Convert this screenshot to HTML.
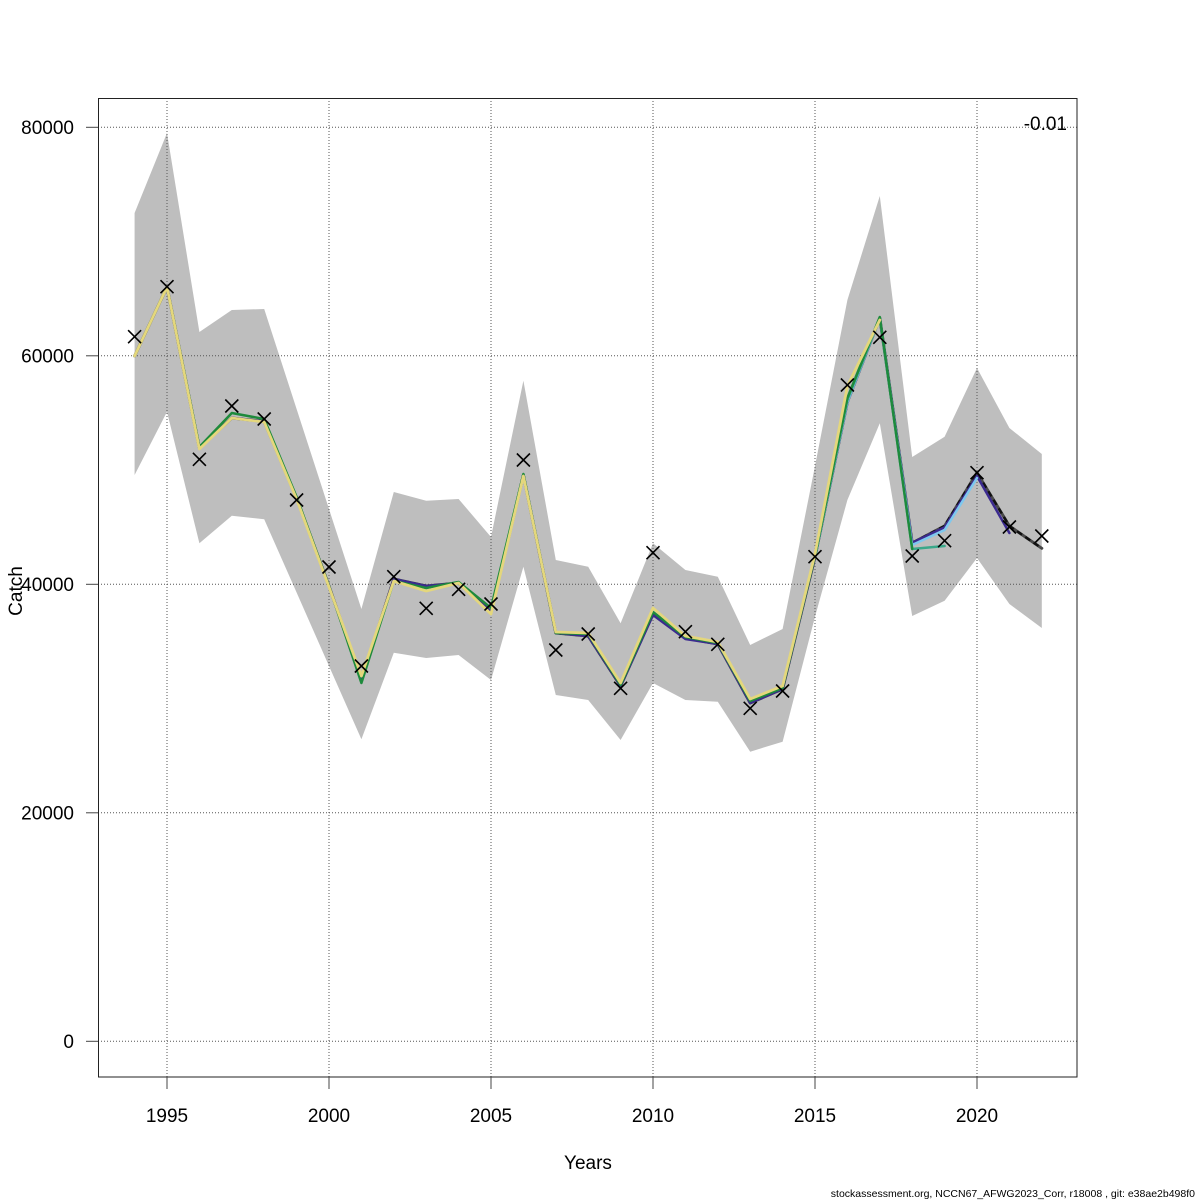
<!DOCTYPE html>
<html><head><meta charset="utf-8"><style>
html,body{margin:0;padding:0;background:#fff;}
svg{display:block;}
text{font-family:"Liberation Sans",Arial,sans-serif;fill:#000;}
</style></head><body>
<svg width="1200" height="1200" viewBox="0 0 1200 1200" xmlns="http://www.w3.org/2000/svg">
<rect width="1200" height="1200" fill="#fff"/>
<!-- band -->
<polygon fill="#bebebe" points="134.6,213 167,133 199.4,332 231.8,310 264.2,309 296.6,409 329,509 361.4,609 393.8,492 426.2,500.7 458.6,499 491,537 523.4,380.7 555.8,560 588.2,566.7 620.6,623.3 653,543.3 685.4,570 717.8,576.7 750.2,645 782.6,629 815,466 847.4,300 879.8,196 912.2,457 944.6,436.7 977,368 1009.4,428 1041.8,454 1041.8,628 1009.4,604 977,558 944.6,600.7 912.2,616 879.8,423.3 847.4,500 815,616.7 782.6,741.7 750.2,751.7 717.8,701.7 685.4,700 653,683 620.6,740 588.2,700 555.8,695 523.4,566.7 491,680 458.6,655 426.2,658 393.8,652.7 361.4,739.3 329,666 296.6,592.5 264.2,519.3 231.8,515.7 199.4,543.3 167,411.7 134.6,475"/>
<!-- grid -->
<g stroke="#555" stroke-width="1" stroke-dasharray="1 2" fill="none">
<line x1="98" y1="1041.3" x2="1077" y2="1041.3"/>
<line x1="98" y1="812.8" x2="1077" y2="812.8"/>
<line x1="98" y1="584.3" x2="1077" y2="584.3"/>
<line x1="98" y1="355.8" x2="1077" y2="355.8"/>
<line x1="98" y1="127.3" x2="1077" y2="127.3"/>
<line x1="167" y1="98" x2="167" y2="1077"/>
<line x1="329" y1="98" x2="329" y2="1077"/>
<line x1="491" y1="98" x2="491" y2="1077"/>
<line x1="653" y1="98" x2="653" y2="1077"/>
<line x1="815" y1="98" x2="815" y2="1077"/>
<line x1="977" y1="98" x2="977" y2="1077"/>
</g>
<!-- lines -->
<g fill="none" stroke-linejoin="round" stroke-linecap="round">
<polyline stroke="#4a4a4a" stroke-width="3" points="134.6,356 167,287 199.4,448 231.8,418 264.2,421.5 296.6,498 329,586 361.4,680 393.8,579 426.2,586 458.6,583 491,612 523.4,475 555.8,633 588.2,636 620.6,686 653,614 685.4,638 717.8,644 750.2,703 782.6,689 815,557 847.4,402 879.8,318 912.2,543 944.6,526 977,472.7 1009.4,526 1041.8,548.3"/>
<polyline stroke="#111" stroke-width="2.5" stroke-linecap="butt" stroke-dasharray="6 4" points="134.6,356 167,287 199.4,448 231.8,418 264.2,421.5 296.6,498 329,586 361.4,680 393.8,579 426.2,586 458.6,583 491,612 523.4,475 555.8,633 588.2,636 620.6,686 653,614 685.4,638 717.8,644 750.2,703 782.6,689 815,557 847.4,402 879.8,318 912.2,543 944.6,526 977,472.7 1009.4,526 1041.8,548.3"/>
<polyline stroke="#3b2a8f" stroke-width="2.5" points="134.6,356 167,287 199.4,448 231.8,418 264.2,421.5 296.6,498 329,586 361.4,680 393.8,579 426.2,586 458.6,583 491,612 523.4,475 555.8,633 588.2,636 620.6,686 653,615 685.4,639 717.8,644 750.2,703 782.6,689 815,557 847.4,402 879.8,318 912.2,542.7 944.6,527.3 977,476 1009.4,533"/>
<polyline stroke="#7ec8ee" stroke-width="2.5" points="815,557 847.4,402 879.8,318 912.2,545 944.6,530 977,478"/>
<polyline stroke="#3aa88a" stroke-width="2.5" points="815,557 847.4,400 879.8,318 912.2,549 944.6,546"/>
<polyline stroke="#1e8a3c" stroke-width="2.5" points="134.6,356 167,287 199.4,447 231.8,413 264.2,419 296.6,497 329,586 361.4,683 393.8,581 426.2,588 458.6,582 491,608 523.4,474 555.8,633 588.2,634 620.6,685 653,612 685.4,637 717.8,643 750.2,701 782.6,688 815,556 847.4,398 879.8,317 912.2,549"/>
<polyline stroke="#e4d77c" stroke-width="2.8" points="134.6,356 167,287 199.4,449 231.8,418 264.2,422 296.6,499 329,587 361.4,676 393.8,581 426.2,591 458.6,583 491,614 523.4,476 555.8,632 588.2,633 620.6,683 653,608 685.4,636 717.8,642 750.2,699 782.6,686 815,554 847.4,386 879.8,320"/>
</g>
<!-- observations -->
<g stroke="#000" stroke-width="1.6" fill="none">
<path d="M128.1,330.2l13,13m0,-13l-13,13"/>
<path d="M160.5,280.2l13,13m0,-13l-13,13"/>
<path d="M192.9,452.8l13,13m0,-13l-13,13"/>
<path d="M225.3,399.5l13,13m0,-13l-13,13"/>
<path d="M257.7,412.5l13,13m0,-13l-13,13"/>
<path d="M290.1,493.5l13,13m0,-13l-13,13"/>
<path d="M322.5,560.5l13,13m0,-13l-13,13"/>
<path d="M354.9,659.5l13,13m0,-13l-13,13"/>
<path d="M387.3,570.2l13,13m0,-13l-13,13"/>
<path d="M419.7,601.8l13,13m0,-13l-13,13"/>
<path d="M452.1,582.8l13,13m0,-13l-13,13"/>
<path d="M484.5,597.5l13,13m0,-13l-13,13"/>
<path d="M516.9,453.5l13,13m0,-13l-13,13"/>
<path d="M549.3,643.5l13,13m0,-13l-13,13"/>
<path d="M581.7,627.5l13,13m0,-13l-13,13"/>
<path d="M614.1,681.8l13,13m0,-13l-13,13"/>
<path d="M646.5,546.2l13,13m0,-13l-13,13"/>
<path d="M678.9,625.2l13,13m0,-13l-13,13"/>
<path d="M711.3,637.8l13,13m0,-13l-13,13"/>
<path d="M743.7,701.8l13,13m0,-13l-13,13"/>
<path d="M776.1,684.5l13,13m0,-13l-13,13"/>
<path d="M808.5,550.2l13,13m0,-13l-13,13"/>
<path d="M840.9,378.5l13,13m0,-13l-13,13"/>
<path d="M873.3,330.8l13,13m0,-13l-13,13"/>
<path d="M905.7,549.5l13,13m0,-13l-13,13"/>
<path d="M938.1,534.2l13,13m0,-13l-13,13"/>
<path d="M970.5,466.2l13,13m0,-13l-13,13"/>
<path d="M1002.9,520.5l13,13m0,-13l-13,13"/>
<path d="M1035.3,529.5l13,13m0,-13l-13,13"/>
</g>
<!-- box -->
<rect x="98.5" y="98.5" width="978.5" height="978.5" fill="none" stroke="#222" stroke-width="1"/>
<!-- ticks -->
<g stroke="#444" stroke-width="1">
<line x1="86" y1="1041.3" x2="98" y2="1041.3"/>
<line x1="86" y1="812.8" x2="98" y2="812.8"/>
<line x1="86" y1="584.3" x2="98" y2="584.3"/>
<line x1="86" y1="355.8" x2="98" y2="355.8"/>
<line x1="86" y1="127.3" x2="98" y2="127.3"/>
<line x1="167" y1="1077" x2="167" y2="1089"/>
<line x1="329" y1="1077" x2="329" y2="1089"/>
<line x1="491" y1="1077" x2="491" y2="1089"/>
<line x1="653" y1="1077" x2="653" y2="1089"/>
<line x1="815" y1="1077" x2="815" y2="1089"/>
<line x1="977" y1="1077" x2="977" y2="1089"/>
</g>
<g font-size="19" text-anchor="end">
<text x="74" y="1048">0</text>
<text x="74" y="819.5">20000</text>
<text x="74" y="591">40000</text>
<text x="74" y="362.5">60000</text>
<text x="74" y="134">80000</text>
</g>
<g font-size="19" text-anchor="middle">
<text x="167" y="1122">1995</text>
<text x="329" y="1122">2000</text>
<text x="491" y="1122">2005</text>
<text x="653" y="1122">2010</text>
<text x="815" y="1122">2015</text>
<text x="977" y="1122">2020</text>
<text x="588" y="1169">Years</text>
<text transform="translate(22,591) rotate(-90)">Catch</text>
</g>
<text x="1067" y="130" font-size="19" text-anchor="end">-0.01</text>
<text x="1195" y="1197" font-size="10.5" text-anchor="end">stockassessment.org, NCCN67_AFWG2023_Corr, r18008 , git: e38ae2b498f0</text>
</svg>
</body></html>
